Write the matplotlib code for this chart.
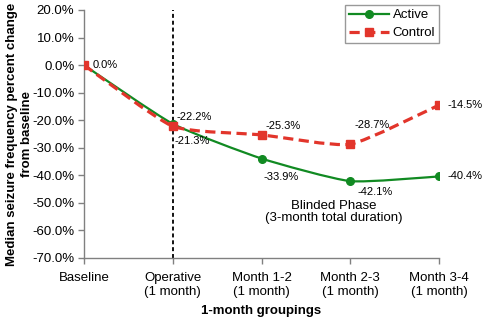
import matplotlib
matplotlib.use("Agg")
import matplotlib.pyplot as plt
import numpy as np
from matplotlib.path import Path
from matplotlib.patches import PathPatch
from matplotlib.lines import Line2D

plt.rcParams['font.family'] = ['Liberation Sans', 'DejaVu Sans']

categories = ["Baseline", "Operative\n(1 month)", "Month 1-2\n(1 month)",
              "Month 2-3\n(1 month)", "Month 3-4\n(1 month)"]
active = [0.0, -21.3, -33.9, -42.1, -40.4]
control = [0.0, -22.2, -25.3, -28.7, -14.5]
yticks = [20, 10, 0, -10, -20, -30, -40, -50, -60, -70]

GREEN = '#118a22'
RED = '#e2352b'


def smooth_path(xs, ys, k=0.09):
    """Gently smoothed cubic Bezier path through the given points."""
    pts = np.column_stack([xs, ys]).astype(float)
    n = len(pts)
    verts = [pts[0]]
    codes = [Path.MOVETO]
    for i in range(n - 1):
        p0 = pts[i - 1] if i > 0 else pts[i]
        p1 = pts[i]
        p2 = pts[i + 1]
        p3 = pts[i + 2] if i + 2 < n else pts[i + 1]
        c1 = p1 + (p2 - p0) * k
        c2 = p2 - (p3 - p1) * k
        verts += [c1, c2, p2]
        codes += [Path.CURVE4] * 3
    return Path(verts, codes)


fig = plt.figure(figsize=(4.84, 3.24), dpi=100)
ax = fig.add_axes([84 / 484, 1 - 258 / 324, (439 - 84) / 484, (258 - 10) / 324])

x = np.arange(len(categories))

# vertical marker at the start of the operative period
ax.axvline(1, color='black', lw=1.3, ls=(0, (2.2, 1.6)), zorder=1)

# smoothed series lines
ax.add_patch(PathPatch(smooth_path(x, active), fill=False, edgecolor=GREEN,
                       lw=1.6, zorder=2))
ax.add_patch(PathPatch(smooth_path(x, control), fill=False, edgecolor=RED,
                       lw=2.3, ls=(0, (3.2, 1.7)), zorder=3))

ax.plot(x, active, ls='none', marker='o', ms=5.5, color=GREEN, zorder=4)
ax.plot(x, control, ls='none', marker='s', ms=6, color=RED, zorder=5)

# value labels (offsets in pixels)
lab_active = [None, (2, -17), (2, -18), (7, -11), (9, 0)]
lab_control = [(9, 0), (4, 9), (4, 9), (4, 19), (9, 0)]
for xi, v, off in zip(x, control, lab_control):
    if off is None:
        continue
    ax.annotate(f"{v:.1f}%", (xi, v), xytext=off, textcoords='offset pixels',
                ha='left', va='center', fontsize=8, zorder=6)
for xi, v, off in zip(x, active, lab_active):
    if off is None:
        continue
    ax.annotate(f"{v:.1f}%", (xi, v), xytext=off, textcoords='offset pixels',
                ha='left', va='center', fontsize=8, zorder=6)

ax.text(2.81, -53.3, "Blinded Phase\n(3-month total duration)", ha='center',
        va='center', fontsize=9.5, linespacing=1.1)

ax.set_xlim(0, 4)
ax.set_ylim(-70, 20)
ax.set_xticks(x)
ax.set_xticklabels(categories, fontsize=9.5, linespacing=1.2)
ax.set_yticks(yticks)
ax.set_yticklabels([f"{t:.1f}%" for t in yticks], fontsize=9.5)

for s in ['top', 'right']:
    ax.spines[s].set_visible(False)
for s in ['left', 'bottom']:
    ax.spines[s].set_color('#808080')
    ax.spines[s].set_linewidth(1.0)
ax.tick_params(axis='both', colors='#808080', labelcolor='black', length=4,
               width=1.0)
ax.tick_params(axis='x', pad=6)
ax.tick_params(axis='y', pad=3)

ax.set_xlabel("1-month groupings", fontsize=9.5, fontweight='bold', labelpad=5)
ax.set_ylabel("Median seizure frequency percent change\nfrom baseline",
              fontsize=9.5, fontweight='bold', linespacing=1.25)
ax.yaxis.set_label_coords(-0.145, 0.5)

handles = [Line2D([], [], color=GREEN, lw=1.6, marker='o', ms=5.5),
           Line2D([], [], color=RED, lw=2.3, ls=(0, (3.2, 1.7)), marker='s', ms=6)]
leg = ax.legend(handles, ["Active", "Control"], loc='upper right',
                bbox_to_anchor=(1.0, 1.02), borderaxespad=0, fontsize=9.5,
                frameon=True, fancybox=False, edgecolor='#808080',
                handlelength=3.0, borderpad=0.3, labelspacing=0.45,
                handletextpad=0.3)
leg.get_frame().set_linewidth(1.0)

fig.savefig("out.png", dpi=100)
